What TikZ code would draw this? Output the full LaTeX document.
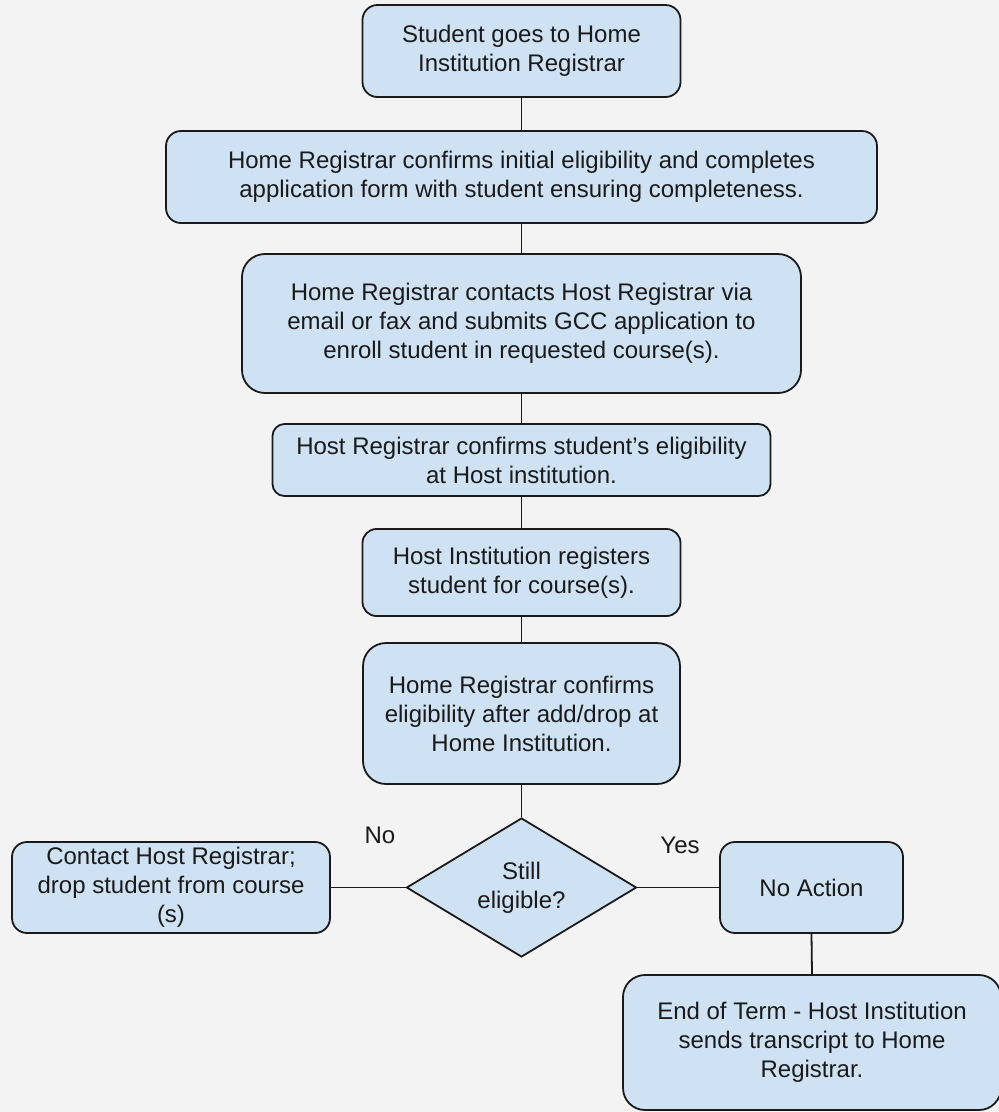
\documentclass[tikz,border=0pt]{standalone}
\usepackage{fontspec}
\setmainfont{Liberation Sans}
\usetikzlibrary{shapes.geometric}
\definecolor{bg}{HTML}{F3F3F3}
\definecolor{boxfill}{HTML}{CFE2F3}
\definecolor{ink}{HTML}{1A1A1A}
\begin{document}
\begin{tikzpicture}[x=1pt,y=-1pt,
  box/.style={draw=ink, fill=boxfill, line width=1.8pt, rectangle, align=center,
    inner sep=0pt, font=\fontsize{24}{29}\selectfont, text=ink},
  decision/.style={draw=ink, fill=boxfill, line width=1.8pt, diamond, aspect=1.65,
    align=center, inner sep=0pt, font=\fontsize{24}{29}\selectfont, text=ink},
  conn/.style={draw=ink, line width=1.8pt},
  lbl/.style={font=\fontsize{24}{29}\selectfont, text=ink, inner sep=0pt}]
\fill[bg] (0,0) rectangle (999,1112);
\useasboundingbox (0,0) rectangle (999,1112);

\node[box, minimum width=318pt, minimum height=92pt, rounded corners=15pt] (b1) at (521.5,51)
  {Student goes to Home\\Institution Registrar};
\node[box, minimum width=711pt, minimum height=92pt, rounded corners=15pt] (b2) at (521.5,177)
  {Home Registrar confirms initial eligibility and completes\\application form with student ensuring completeness.};
\node[box, minimum width=559pt, minimum height=139pt, rounded corners=23pt] (b3) at (521.5,323.5)
  {Home Registrar contacts Host Registrar via\\email or fax and submits GCC application to\\enroll student in requested course(s).};
\node[box, minimum width=498pt, minimum height=72pt, rounded corners=12pt] (b4) at (521.5,460)
  {Host Registrar confirms student's eligibility\\at Host institution.};
\node[box, minimum width=318pt, minimum height=87pt, rounded corners=14pt] (b5) at (521.5,572.5)
  {Host Institution registers\\student for course(s).};
\node[box, minimum width=317pt, minimum height=141pt, rounded corners=23pt] (b6) at (521.5,713.5)
  {Home Registrar confirms\\eligibility after add/drop at\\Home Institution.};
\node[decision, minimum width=230pt, minimum height=139pt] (d) at (521.5,887.5)
  {Still\\eligible?};
\node[box, minimum width=318pt, minimum height=91pt, rounded corners=15pt] (drop) at (171,887.5)
  {Contact Host Registrar;\\drop student from course\\(s)};
\node[box, minimum width=183pt, minimum height=91pt, rounded corners=15pt] (na) at (811.5,887.5)
  {No Action};
\node[box, minimum width=378pt, minimum height=135pt, rounded corners=22pt] (eot) at (812,1042.5)
  {End of Term - Host Institution\\sends transcript to Home\\Registrar.};

\node[lbl] (no) at (380,835) {No};
\node[lbl] (yes) at (680,845) {Yes};

\draw[conn] (b1.south) -- (b2.north);
\draw[conn] (b2.south) -- (b3.north);
\draw[conn] (b3.south) -- (b4.north);
\draw[conn] (b4.south) -- (b5.north);
\draw[conn] (b5.south) -- (b6.north);
\draw[conn] (b6.south) -- (d.north);
\draw[conn] (d.west) -- (drop.east);
\draw[conn] (d.east) -- (na.west);
\draw[conn] (na.south) -- (eot.north);
\end{tikzpicture}
\end{document}
